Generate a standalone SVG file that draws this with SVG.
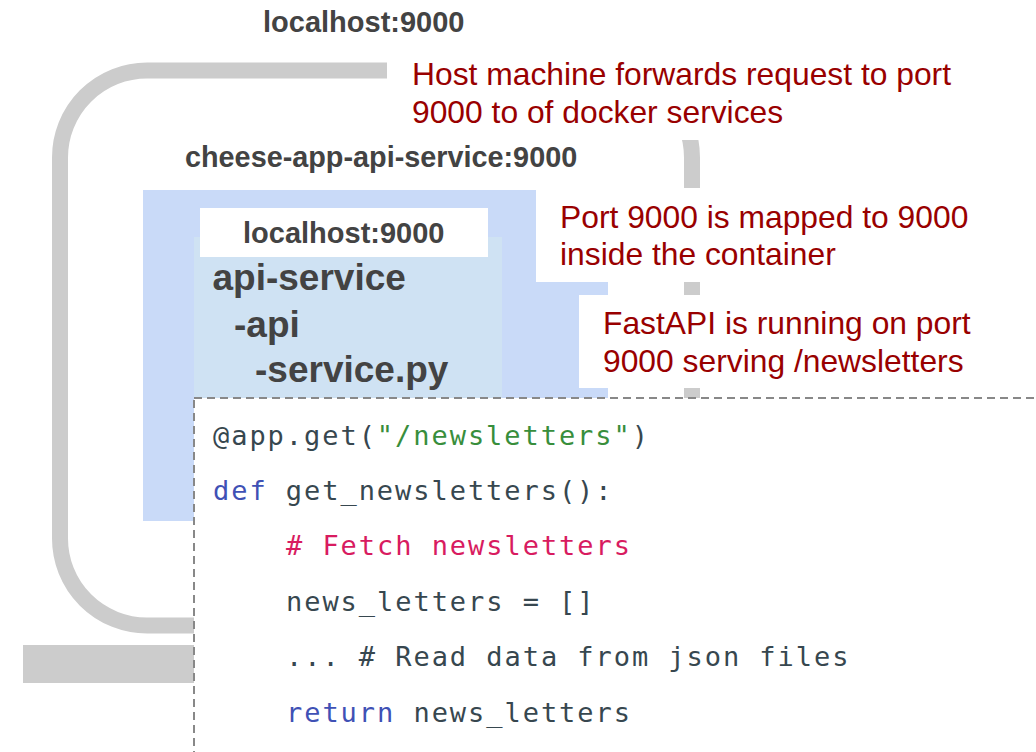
<svg xmlns="http://www.w3.org/2000/svg" width="1036" height="752" viewBox="0 0 1036 752">
  <style>
    .lbl { font-family: "Liberation Sans", Arial, sans-serif; font-weight: bold; fill: #434343; }
    .note { font-family: "Liberation Sans", Arial, sans-serif; font-size: 31.8px; fill: #990000; }
    .code { font-family: "DejaVu Sans Mono", "Liberation Mono", monospace; font-size: 27px; letter-spacing: 1.95px; fill: #37474f; }
    .kw { fill: #3f51b5; }
    .str { fill: #388e3c; }
    .cm { fill: #d81b60; }
    .pipe { fill: none; stroke: #cccccc; stroke-width: 16; }
    .mask { fill: #ffffff; }
  </style>

  <!-- request route from the host port down to the service -->
  <g id="connectors">
    <rect class="pipe" x="60" y="70.5" width="632" height="555" rx="87" ry="87"/>
    <rect x="23" y="645" width="171" height="38" fill="#cccccc"/>
  </g>

  <!-- host port -->
  <g id="host">
    <text class="lbl" x="263" y="32" font-size="29">localhost:9000</text>
  </g>

  <!-- docker service container -->
  <g id="docker-service">
    <text class="lbl" x="185" y="167" font-size="28.8">cheese-app-api-service:9000</text>
    <rect x="143" y="190" width="465" height="331" fill="#c9daf8"/>
  </g>

  <!-- api-service source tree -->
  <g id="api-service">
    <rect x="194" y="237" width="308" height="161" fill="#cfe2f3"/>
    <rect x="200" y="208" width="288" height="49" fill="#ffffff"/>
    <text class="lbl" x="243" y="242.5" font-size="29">localhost:9000</text>
    <text class="lbl" x="212.5" y="290" font-size="37">api-service</text>
    <text class="lbl" x="234" y="336.5" font-size="37">-api</text>
    <text class="lbl" x="255" y="381.5" font-size="37">-service.py</text>
  </g>

  <!-- explanatory notes -->
  <g id="note-host">
    <rect class="mask" x="387" y="48" width="640" height="92"/>
    <text class="note" x="412" y="85">Host machine forwards request to port</text>
    <text class="note" x="412" y="123">9000 to of docker services</text>
  </g>
  <g id="note-port">
    <rect class="mask" x="536" y="188" width="490" height="94"/>
    <text class="note" x="560" y="228">Port 9000 is mapped to 9000</text>
    <text class="note" x="560" y="265">inside the container</text>
  </g>
  <g id="note-fastapi">
    <rect class="mask" x="579" y="295" width="447" height="93"/>
    <text class="note" x="603" y="334">FastAPI is running on port</text>
    <text class="note" x="603" y="371.5">9000 serving /newsletters</text>
  </g>

  <!-- service.py excerpt -->
  <g id="code">
    <rect x="194" y="398" width="860" height="380" fill="#ffffff" stroke="#888888" stroke-width="2" stroke-dasharray="8 5"/>
    <text class="code" x="213" y="445">@app.get(<tspan class="str">"/newsletters"</tspan>)</text>
    <text class="code" x="213" y="500"><tspan class="kw">def</tspan> get_newsletters():</text>
    <text class="code cm" x="286" y="555"># Fetch newsletters</text>
    <text class="code" x="286" y="611">news_letters = []</text>
    <text class="code" x="286" y="666">... # Read data from json files</text>
    <text class="code" x="286" y="722"><tspan class="kw">return</tspan> news_letters</text>
  </g>
</svg>
